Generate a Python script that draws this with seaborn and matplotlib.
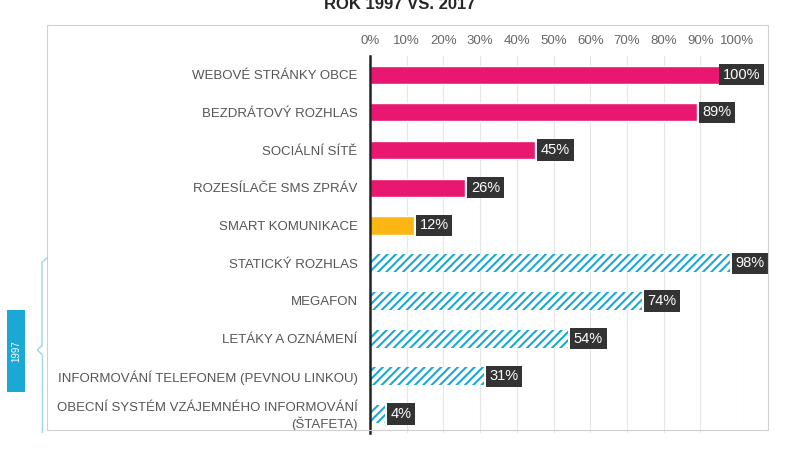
import matplotlib
matplotlib.use("Agg")
import matplotlib.pyplot as plt
import seaborn as sns
import pandas as pd
from matplotlib.patches import Rectangle
from matplotlib.lines import Line2D

categories = ["WEBOVÉ STRÁNKY OBCE", "BEZDRÁTOVÝ ROZHLAS", "SOCIÁLNÍ SÍTĚ",
              "ROZESÍLAČE SMS ZPRÁV", "SMART KOMUNIKACE", "STATICKÝ ROZHLAS",
              "MEGAFON", "LETÁKY A OZNÁMENÍ", "INFORMOVÁNÍ TELEFONEM (PEVNOU LINKOU)",
              "OBECNÍ SYSTÉM VZÁJEMNÉHO INFORMOVÁNÍ\n(ŠTAFETA)"]
values = [100, 89, 45, 26, 12, 98, 74, 54, 31, 4]
groups = ["2017", "2017", "2017", "2017", "smart", "1997", "1997", "1997", "1997", "1997"]

pink, orange, blue = "#e8176f", "#fbb614", "#1ca8d4"
df = pd.DataFrame({"cat": categories, "val": values, "grp": groups})

sns.set_style("white")
plt.rcParams["font.family"] = ["Liberation Sans", "DejaVu Sans"]
plt.rcParams["hatch.linewidth"] = 1.5
fig = plt.figure(figsize=(8, 4.5), dpi=100)
ax = fig.add_axes([0.4625, 0.038, 0.459, 0.838])

sns.barplot(data=df, y="cat", x="val", hue="grp", dodge=False, legend=False,
            palette={"2017": pink, "smart": orange, "1997": "white"},
            width=0.48, ax=ax, saturation=1)
for bar, g in zip(ax.patches, groups):
    if g == "1997":
        bar.set_hatch("////")
        bar.set_edgecolor(blue)
        bar.set_linewidth(0)

for i, v in enumerate(values):
    x = v + 1.5 if v < 100 else v - 4
    ax.text(x, i, f"{v}%", va="center", ha="left", color="white", fontsize=10.5,
            bbox=dict(boxstyle="square,pad=0.25", fc="#333333", ec="none"), clip_on=False)

ax.set_xlim(0, 100)
ax.set_xticks(range(0, 101, 10))
ax.set_xticklabels([f"{t}%" for t in range(0, 101, 10)], color="#666666", fontsize=9.5)
ax.xaxis.tick_top()
ax.tick_params(axis="x", length=0, pad=6)
ax.tick_params(axis="y", which="major", length=0, labelsize=9.5, labelcolor="#555555", pad=9)
ax.set_yticks([i - 0.5 for i in range(len(values) + 1)], minor=True)
ax.tick_params(axis="y", which="minor", length=4, width=1.5, color="#222222")
ax.grid(axis="x", color="#e6e6e6", lw=0.8)
ax.set_axisbelow(True)
ax.set_xlabel("")
ax.set_ylabel("")
for s in ["top", "right", "bottom"]:
    ax.spines[s].set_visible(False)
ax.spines["left"].set_color("#222222")
ax.spines["left"].set_linewidth(1.8)

# outer frame
fig.patches.append(Rectangle((47 / 800, 1 - 430 / 450), 721 / 800, 405 / 450,
                             transform=fig.transFigure, fill=False, ec="#d0d0d0", lw=0.8))
fig.text(0.5, 0.99, "ROK 1997 VS. 2017", ha="center", va="center", fontsize=12,
         fontweight="bold")

# brace for 1997
bx = 42 / 800
y0, y1, ym = 1 - 258 / 450, 1 - 432 / 450, 1 - 350 / 450
bc = "#9dd4e6"
fig.lines += [Line2D([bx + 0.006, bx, bx], [y0, y0 - 0.01, ym + 0.01], transform=fig.transFigure, color=bc, lw=1),
              Line2D([bx, bx - 0.006, bx], [ym + 0.01, ym, ym - 0.01], transform=fig.transFigure, color=bc, lw=1),
              Line2D([bx, bx], [ym - 0.01, y1], transform=fig.transFigure, color=bc, lw=1)]
fig.patches.append(Rectangle((7 / 800, 1 - 392 / 450), 18 / 800, 82 / 450,
                             transform=fig.transFigure, fc=blue, ec="none"))
fig.text(16 / 800, 1 - 351 / 450, "1997", rotation=90, ha="center", va="center",
         color="white", fontsize=7)

fig.savefig("out.png", dpi=100)
